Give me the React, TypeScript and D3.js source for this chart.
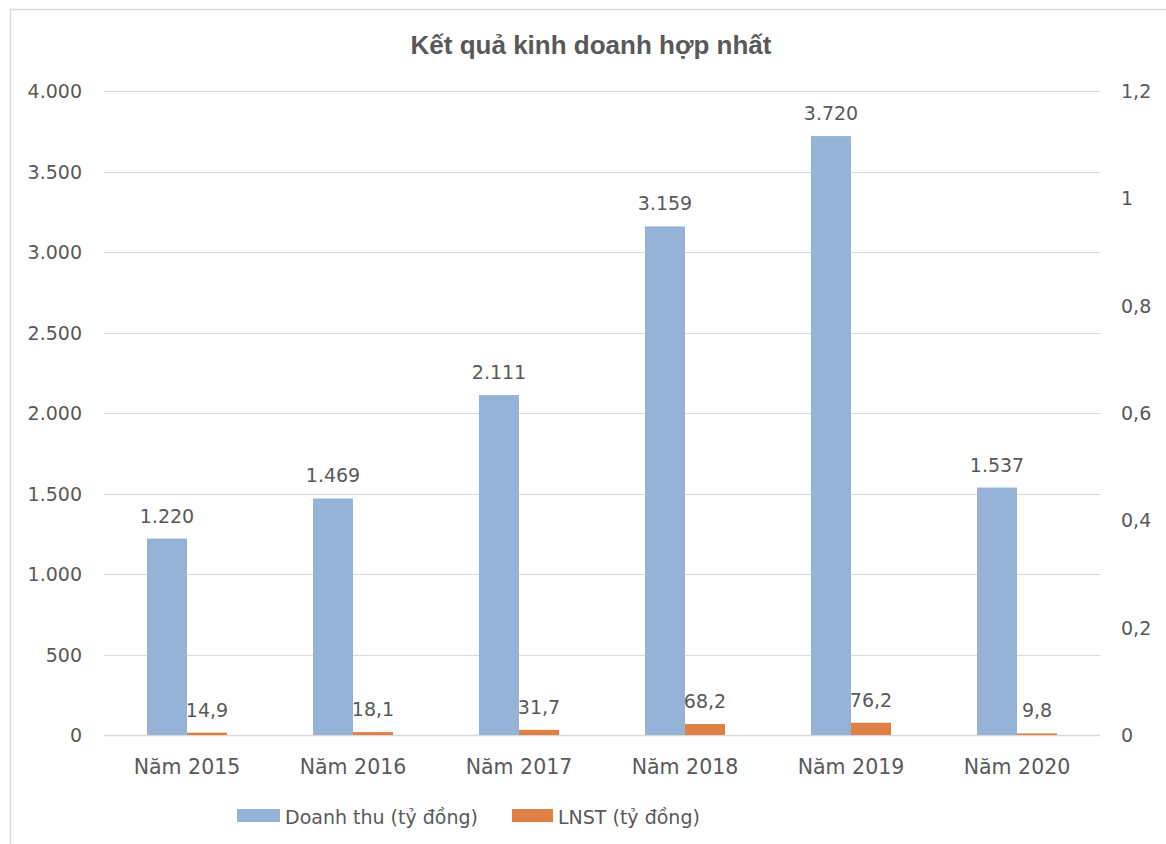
import React from "react";
import * as d3 from "d3";

const categories = ["Năm 2015", "Năm 2016", "Năm 2017", "Năm 2018", "Năm 2019", "Năm 2020"];
const revenue = [1220, 1469, 2111, 3159, 3720, 1537];
const profit = [14.9, 18.1, 31.7, 68.2, 76.2, 9.8];
const leftTicks = [0, 500, 1000, 1500, 2000, 2500, 3000, 3500, 4000];
const rightTicks = [0, 0.2, 0.4, 0.6, 0.8, 1, 1.2];
const seriesNames = ["Doanh thu (tỷ đồng)", "LNST (tỷ đồng)"];
const title = "Kết quả kinh doanh hợp nhất";

const W = 1166, H = 844;
const left = 104, right = 1100, top = 91, bottom = 735;
const BLUE = "#95b3d6";
const ORANGE = "#df8044";
const TXT = "#595959";
const FONT = "'DejaVu Sans', sans-serif";

const fmtLeft = (v: number) => d3.format(",")(v).replace(/,/g, ".");
const fmtDec = (v: number) => String(v).replace(".", ",");

export default function App() {
  const x = d3.scaleBand().domain(categories).range([left, right]);
  const y = d3.scaleLinear().domain([0, 4000]).range([bottom, top]);
  const yR = d3.scaleLinear().domain([0, 1.2]).range([bottom, top]);
  const barW = 40;

  return (
    <svg width={W} height={H} style={{ position: "absolute", left: 0, top: 0, background: "#fff" }}>
      <rect x={0} y={0} width={W} height={H} fill="#fff" />
      <line x1={10.5} y1={9} x2={10.5} y2={H} stroke="#d9d9d9" strokeWidth={1.5} />
      <line x1={10} y1={9.5} x2={W} y2={9.5} stroke="#d9d9d9" strokeWidth={1.5} />
      <text x={591} y={54} textAnchor="middle" fontFamily="'Liberation Sans', Arial, sans-serif" fontWeight="bold" fontSize={26} fill={TXT}>
        {title}
      </text>
      {leftTicks.map((t) => (
        <g key={"l" + t}>
          <line x1={left} x2={right} y1={Math.round(y(t)) + 0.5} y2={Math.round(y(t)) + 0.5} stroke="#d9d9d9" strokeWidth={t === 0 ? 1.5 : 1} />
          <text x={82} y={y(t) + 7} textAnchor="end" fontFamily={FONT} fontSize={19} fill={TXT}>
            {fmtLeft(t)}
          </text>
        </g>
      ))}
      {rightTicks.map((t) => (
        <text key={"r" + t} x={1121} y={yR(t) + 7} textAnchor="start" fontFamily={FONT} fontSize={19} fill={TXT}>
          {fmtDec(t)}
        </text>
      ))}
      {categories.map((c, i) => {
        const cx = (x(c) as number) + x.bandwidth() / 2;
        return (
          <g key={c}>
            <rect x={cx - barW} y={y(revenue[i])} width={barW} height={bottom - y(revenue[i])} fill={BLUE} />
            <rect x={cx} y={y(profit[i])} width={barW} height={bottom - y(profit[i])} fill={ORANGE} />
            <text x={cx - barW / 2} y={y(revenue[i]) - 16} textAnchor="middle" fontFamily={FONT} fontSize={19} fill={TXT}>
              {fmtLeft(revenue[i])}
            </text>
            <text x={cx + barW / 2} y={y(profit[i]) - 16} textAnchor="middle" fontFamily={FONT} fontSize={19} fill={TXT}>
              {fmtDec(profit[i])}
            </text>
            <text x={cx} y={bottom + 39} textAnchor="middle" fontFamily={FONT} fontSize={20.5} fill={TXT}>
              {c}
            </text>
          </g>
        );
      })}
      <rect x={237} y={809} width={43} height={13} fill={BLUE} />
      <text x={285} y={824} fontFamily={FONT} fontSize={19} fill={TXT}>{seriesNames[0]}</text>
      <rect x={512} y={809} width={41} height={13} fill={ORANGE} />
      <text x={558} y={824} fontFamily={FONT} fontSize={19} fill={TXT}>{seriesNames[1]}</text>
    </svg>
  );
}
